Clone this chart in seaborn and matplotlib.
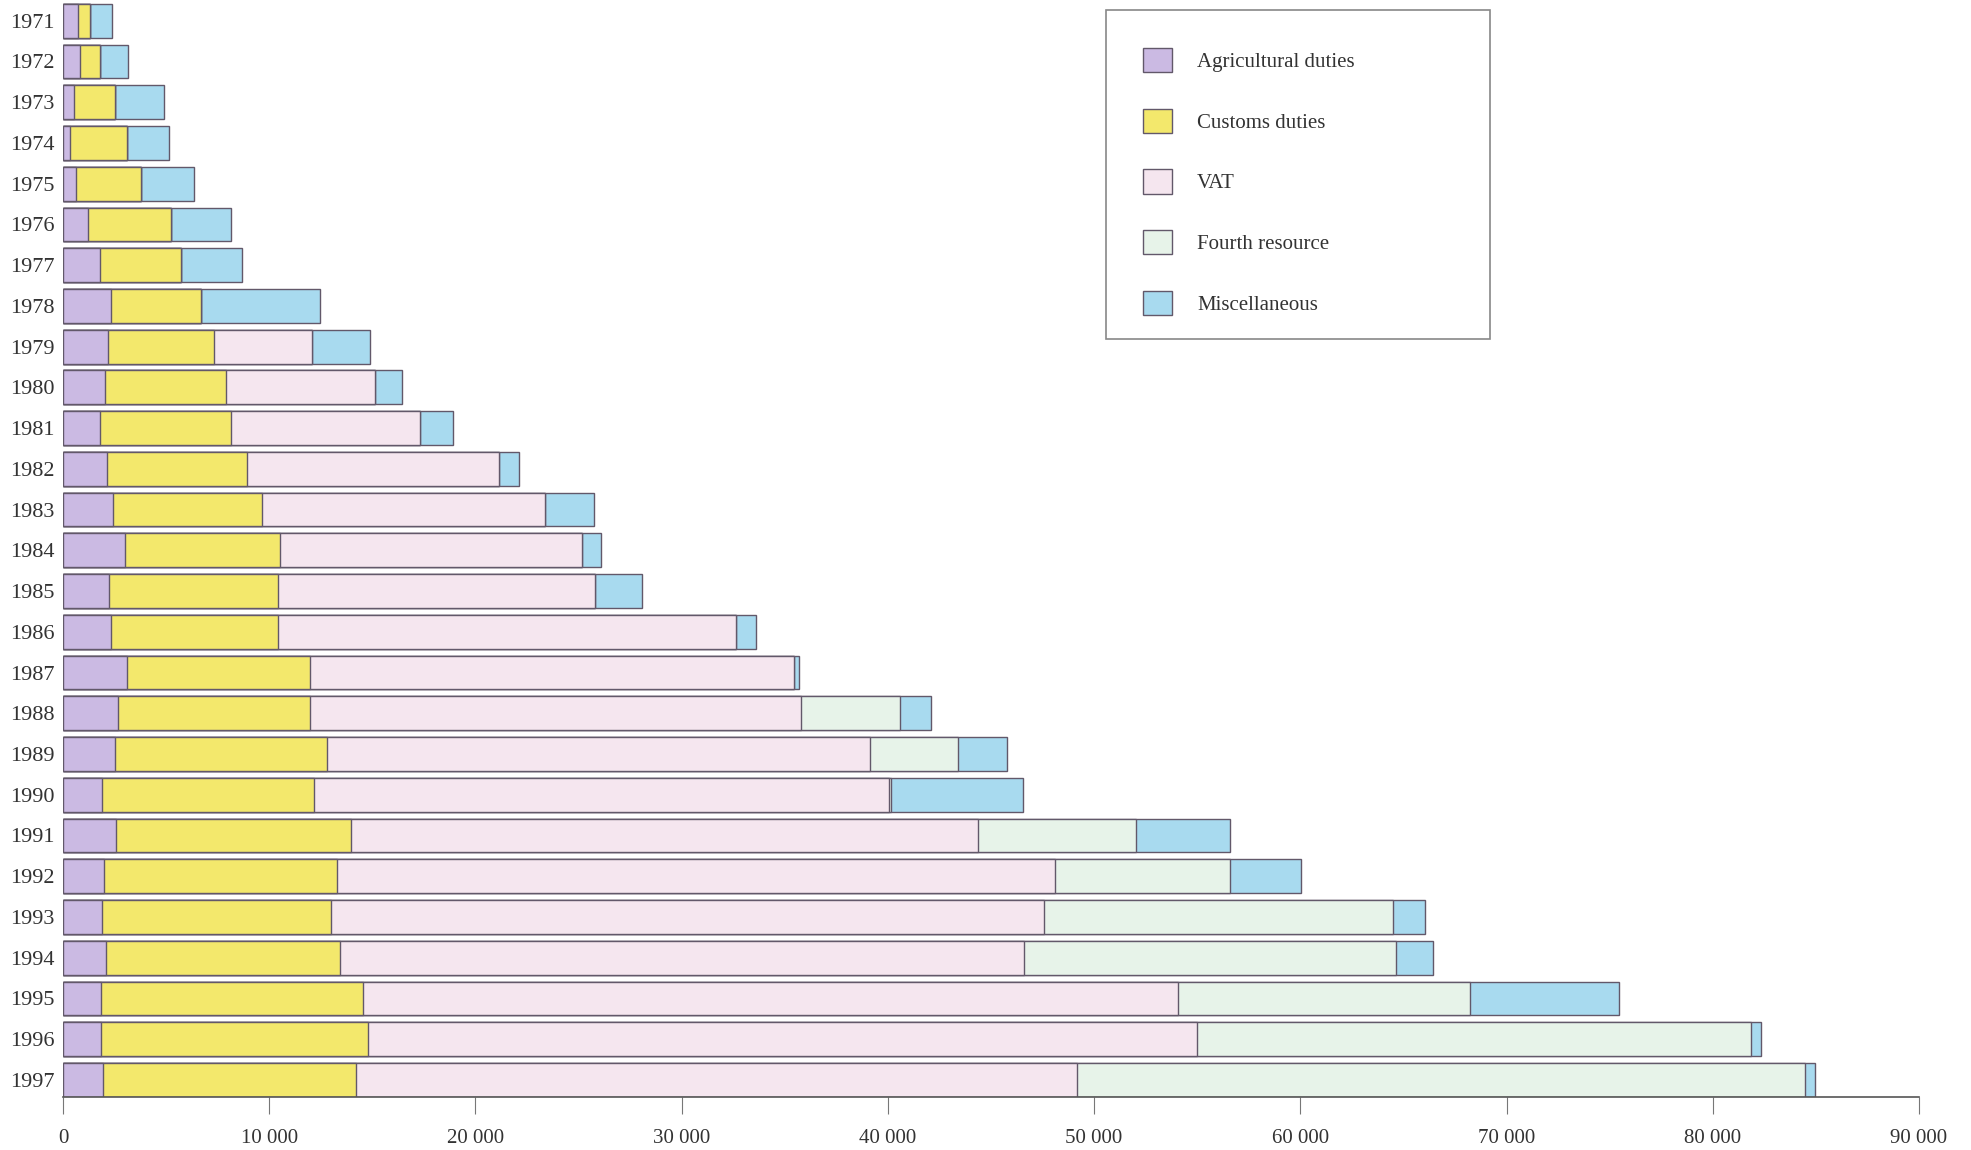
import pandas as pd
import matplotlib.pyplot as plt
import matplotlib.patches as mpatches
import seaborn as sns

# EU own resources by year
years = [str(y) for y in range(1971, 1998)]
agricultural = [740, 830, 520, 350, 610, 1190, 1800, 2320, 2170, 2020, 1800, 2140, 2440,
                2990, 2210, 2310, 3120, 2680, 2510, 1890, 2560, 2010, 1890, 2070, 1830, 1830, 1950]
customs = [560, 950, 1990, 2730, 3160, 4030, 3900, 4350, 5150, 5860, 6340, 6780, 7190,
           7520, 8200, 8100, 8850, 9290, 10270, 10300, 11400, 11280, 11090, 11340, 12730, 12980, 12250]
vat = [0, 0, 0, 0, 0, 0, 0, 0, 4760, 7270, 9150, 12200, 13730,
       14640, 15380, 22230, 23480, 23820, 26370, 27850, 30400, 34790, 34610, 33210, 39490, 40160, 34980]
fourth = [0, 0, 0, 0, 0, 0, 0, 0, 0, 0, 0, 0, 0,
          0, 0, 0, 0, 4780, 4270, 100, 7680, 8530, 16880, 18040, 14200, 26870, 35280]
misc = [1060, 1360, 2410, 2070, 2600, 2940, 2960, 5780, 2790, 1280, 1630, 980, 2400,
        950, 2310, 950, 240, 1520, 2370, 6420, 4570, 3420, 1590, 1770, 7190, 490, 490]

labels = ['Agricultural duties', 'Customs duties', 'VAT', 'Fourth resource', 'Miscellaneous']
colors = ['#cbbae3', '#f3e86c', '#f5e6ef', '#e7f3e9', '#a8daef']
edge = '#62586a'

df = pd.DataFrame({'year': years, 'agri': agricultural, 'customs': customs,
                   'vat': vat, 'fourth': fourth, 'misc': misc})
parts = ['agri', 'customs', 'vat', 'fourth', 'misc']
cum = df[parts].cumsum(axis=1)
for p in parts:
    df['cum_' + p] = cum[p]

sns.set_style('white')
plt.rcParams['font.family'] = ['Liberation Serif', 'DejaVu Serif']

fig = plt.figure(figsize=(19.71, 11.5), dpi=100)
ax = fig.add_axes([63 / 1971, 0.0457, (1919 - 63) / 1971, 0.954])

# stacked bars: draw cumulative totals from the outermost layer inwards
for p, c in reversed(list(zip(parts, colors))):
    sns.barplot(data=df, x='cum_' + p, y='year', orient='h', color=c, saturation=1,
                width=0.83, edgecolor=edge, linewidth=1.0, ax=ax)

ax.set_xlim(0, 90000)
ax.set_ylim(26.43, -0.5)
ax.set_xlabel('')
ax.set_ylabel('')
ax.set_xticks(range(0, 90001, 10000))
ax.set_xticklabels([f'{v:,}'.replace(',', ' ') for v in range(0, 90001, 10000)])
ax.tick_params(axis='x', direction='out', length=12, width=0.8, color='#777777',
               labelsize=15, labelcolor='#333333', pad=11, bottom=True)
ax.tick_params(axis='y', length=0, labelsize=16, labelcolor='#333333', pad=6)
for s in ['top', 'right', 'left']:
    ax.spines[s].set_visible(False)
ax.spines['bottom'].set_color('#555555')
ax.spines['bottom'].set_linewidth(1.2)

# legend
handles = [mpatches.Patch(facecolor=c, edgecolor=edge, linewidth=1.0, label=l)
           for c, l in zip(colors, labels)]
fig.legend(handles=handles, loc='upper left', bbox_to_anchor=(1143 / 1971, 1 - 48 / 1150),
           bbox_transform=fig.transFigure, frameon=False, borderpad=0, borderaxespad=0,
           handlelength=1.4, handleheight=1.4, handletextpad=1.2, labelspacing=1.76,
           fontsize=15, labelcolor='#333333')
fig.patches.append(mpatches.Rectangle((1106 / 1971, 1 - 339 / 1150), 384 / 1971, 329 / 1150,
                                      transform=fig.transFigure, fill=False,
                                      edgecolor='#888888', linewidth=1.2))

plt.savefig('out.png', dpi=100)
